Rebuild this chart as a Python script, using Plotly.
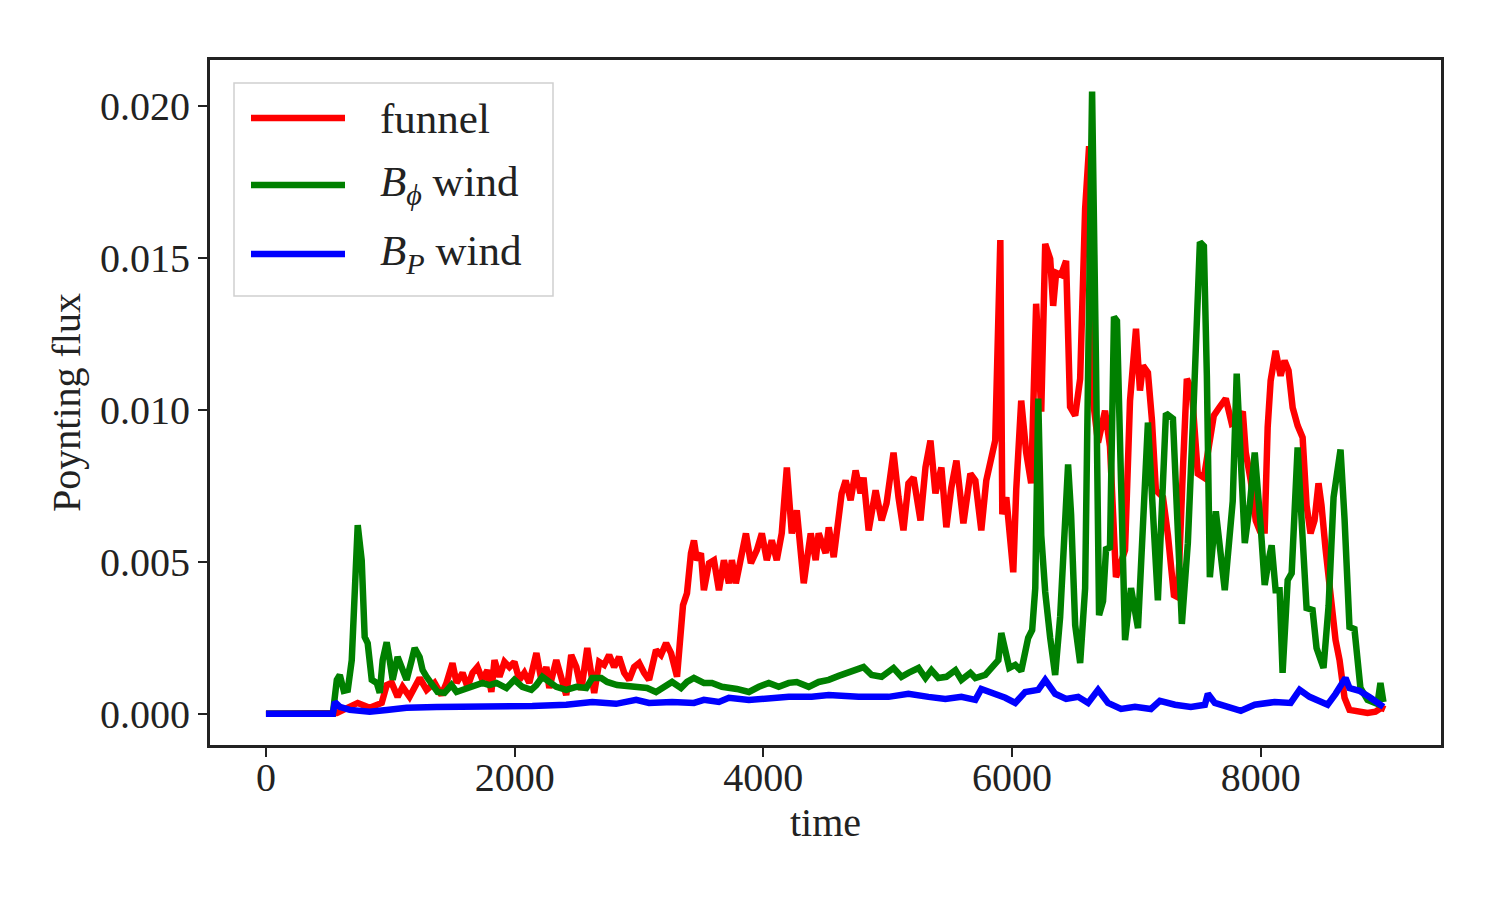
import plotly.graph_objects as go
import numpy as np

# ---- data (time, Poynting flux in units of 1e-3) ----
funnel_t = [0, 538, 570, 738, 834, 931, 971, 1011, 1059, 1099, 1155, 1236, 1292, 1356, 1412, 1452, 1500, 1533,
            1581, 1621, 1661, 1701, 1741, 1781, 1813, 1838, 1878, 1918, 1958, 1998, 2038, 2078, 2118, 2175, 2215,
            2255, 2279, 2335, 2375, 2415, 2455, 2496, 2536, 2584, 2640, 2680, 2720, 2760, 2800, 2840, 2881, 2921,
            2961, 3001, 3041, 3081, 3137, 3177, 3218, 3258, 3306, 3354, 3386, 3418, 3442, 3466, 3498, 3522, 3563,
            3603, 3643, 3683, 3723, 3747, 3779, 3819, 3860, 3900, 3948, 3988, 4028, 4068, 4108, 4148, 4189, 4229,
            4269, 4325, 4381, 4421, 4445, 4501, 4526, 4566, 4606, 4630, 4662, 4702, 4742, 4782, 4806, 4847, 4903,
            4951, 4991, 5047, 5087, 5127, 5167, 5208, 5264, 5304, 5344, 5384, 5432, 5472, 5512, 5553, 5609, 5665,
            5705, 5753, 5793, 5833, 5865, 5906, 5922, 5954, 6010, 6034, 6074, 6114, 6154, 6194, 6235, 6267, 6307,
            6331, 6355, 6395, 6435, 6467, 6508, 6548, 6588, 6620, 6652, 6692, 6748, 6788, 6836, 6909, 6949, 6997,
            7029, 7053, 7093, 7125, 7157, 7214, 7254, 7302, 7334, 7374, 7406, 7446, 7494, 7543, 7583, 7623, 7671,
            7719, 7767, 7815, 7856, 7880, 7920, 7960, 7992, 8032, 8056, 8080, 8120, 8160, 8192, 8224, 8257, 8297,
            8337, 8369, 8401, 8433, 8465, 8489, 8521, 8562, 8602, 8634, 8674, 8714, 8778, 8859, 8923, 8971, 9000]
funnel_v = [0, 0, 0.03, 0.36, 0.20, 0.36, 0.95, 1.02, 0.56, 0.89, 0.56, 1.18, 0.79, 1.02, 0.62, 1.02, 1.67, 1.02,
            1.35, 0.89, 1.35, 1.54, 1.12, 1.44, 0.72, 1.77, 1.22, 1.71, 1.54, 1.71, 1.12, 1.35, 1.02, 2.00, 1.12,
            1.54, 0.85, 1.77, 1.12, 0.62, 1.94, 1.54, 0.79, 2.17, 0.69, 1.71, 1.61, 1.94, 1.54, 1.87, 1.35, 1.12,
            1.54, 1.67, 1.35, 1.12, 2.10, 1.94, 2.33, 2.00, 1.22, 3.58, 3.97, 5.29, 5.71, 5.06, 5.29, 4.07, 4.96,
            5.06, 4.07, 5.06, 4.30, 5.06, 4.30, 5.06, 5.94, 4.96, 5.39, 5.94, 5.06, 5.71, 5.06, 5.94, 8.11, 5.94,
            6.70, 4.30, 5.94, 5.06, 5.94, 5.29, 6.14, 5.16, 6.37, 7.26, 7.68, 7.03, 8.01, 7.26, 7.78, 6.04, 7.36,
            6.37, 6.93, 8.60, 7.13, 6.04, 7.59, 7.78, 6.37, 8.11, 9.00, 7.26, 8.11, 6.14, 7.45, 8.34, 6.27, 7.91,
            7.68, 6.04, 7.68, 8.57, 9.00, 15.6, 6.57, 7.13, 4.66, 7.39, 10.31, 8.60, 7.59, 13.50, 9.95, 15.47, 14.98,
            13.43, 14.52, 14.45, 14.91, 10.11, 9.82, 11.03, 16.62, 18.69, 10.31, 8.93, 9.98, 8.80, 4.50, 5.39, 10.31, 12.68,
            10.64, 11.46, 11.23, 9.69, 7.36, 7.13, 5.88, 3.91, 3.84, 8.01, 11.03, 10.64, 7.91, 7.78, 9.00, 9.82, 10.11,
            10.38, 9.56, 9.66, 9.95, 8.60, 7.68, 6.37, 6.04, 6.04, 9.43, 10.97, 11.95, 11.13, 11.63, 11.30, 10.08, 9.49,
            9.10, 6.86, 5.94, 6.37, 7.59, 6.86, 5.45, 3.74, 2.43, 1.77, 0.53, 0.13, 0.07, 0.03, 0.07, 0.20, 0.15]

bphi_t = [0, 538, 570, 594, 626, 658, 690, 714, 738, 770, 794, 818, 851, 891, 915, 939, 971, 995, 1019, 1059, 1099,
          1131, 1172, 1196, 1236, 1260, 1292, 1332, 1380, 1436, 1492, 1533, 1581, 1637, 1693, 1741, 1797, 1854, 1934,
          1998, 2062, 2134, 2175, 2223, 2279, 2335, 2415, 2496, 2576, 2624, 2696, 2744, 2824, 2921, 3001, 3065, 3137,
          3218, 3266, 3338, 3386, 3442, 3522, 3587, 3667, 3787, 3884, 3964, 4044, 4124, 4205, 4269, 4365, 4445, 4526,
          4606, 4686, 4806, 4871, 4951, 5047, 5111, 5167, 5248, 5304, 5352, 5408, 5472, 5545, 5593, 5665, 5705, 5785,
          5849, 5890, 5914, 5946, 5978, 6026, 6074, 6130, 6162, 6187, 6211, 6235, 6267, 6307, 6347, 6387, 6427, 6451,
          6475, 6508, 6548, 6588, 6612, 6644, 6676, 6700, 6732, 6756, 6788, 6820, 6844, 6877, 6909, 6957, 7013, 7093,
          7133, 7173, 7238, 7294, 7366, 7414, 7462, 7511, 7543, 7567, 7591, 7639, 7711, 7775, 7807, 7872, 7912, 7952,
          8000, 8032, 8064, 8088, 8120, 8152, 8176, 8217, 8249, 8297, 8329, 8369, 8417, 8449, 8505, 8546, 8586, 8642,
          8674, 8714, 8754, 8802, 8859, 8939, 8963, 8987]
bphi_v = [0, 0, 1.12, 1.28, 0.76, 0.79, 1.77, 4.50, 6.21, 5.06, 2.53, 2.33, 1.12, 1.02, 0.69, 1.77, 2.36, 1.77, 1.12,
          1.87, 1.44, 1.12, 1.77, 2.17, 1.87, 1.44, 1.22, 1.02, 0.72, 0.69, 0.95, 0.72, 0.79, 0.89, 0.95, 1.02, 0.95,
          1.02, 0.85, 1.12, 0.89, 0.79, 0.95, 1.22, 1.05, 0.89, 0.79, 0.89, 0.85, 1.18, 1.18, 1.05, 0.95, 0.89, 0.89,
          0.85, 0.72, 0.89, 1.05, 0.85, 1.05, 1.18, 1.02, 1.02, 0.89, 0.82, 0.72, 0.89, 1.02, 0.89, 1.02, 1.05, 0.89,
          1.05, 1.12, 1.25, 1.35, 1.54, 1.28, 1.22, 1.51, 1.22, 1.35, 1.51, 1.18, 1.44, 1.18, 1.22, 1.44, 1.12, 1.35,
          1.18, 1.28, 1.54, 1.77, 2.66, 2.00, 1.51, 1.61, 1.41, 2.50, 2.76, 4.14, 10.38, 5.88, 4.01, 2.50, 1.28, 3.19,
          5.88, 8.21, 6.57, 2.92, 1.67, 4.14, 11.33, 20.49, 11.33, 3.25, 3.71, 5.42, 5.48, 13.07, 12.94, 6.44, 2.43,
          4.14, 2.82, 9.59, 7.00, 3.74, 9.89, 9.72, 2.96, 5.62, 10.31, 15.53, 15.40, 11.13, 4.50, 6.67, 4.07, 7.00,
          11.20, 5.62, 6.86, 8.60, 6.17, 4.24, 5.06, 5.55, 4.07, 4.07, 1.35, 4.40, 4.63, 8.77, 6.37, 3.48, 3.42, 2.17,
          1.51, 3.55, 7.13, 8.70, 6.44, 2.86, 2.79, 0.85, 0.46, 0.33, 1.02, 0.39]

bp_t = [0, 538, 554, 594, 674, 834, 971, 1131, 1372, 1637, 1902, 2142, 2415, 2624, 2816, 2977, 3081, 3266, 3442, 3522,
        3643, 3723, 3884, 4044, 4205, 4389, 4526, 4662, 4766, 5007, 5167, 5328, 5464, 5593, 5705, 5753, 5833, 5946,
        6026, 6106, 6211, 6267, 6347, 6435, 6532, 6612, 6692, 6772, 6877, 6989, 7117, 7189, 7310, 7438, 7551, 7575,
        7631, 7735, 7840, 7952, 8112, 8241, 8313, 8393, 8538, 8602, 8682, 8714, 8794, 8883, 8987]
bp_v = [0, 0, 0.39, 0.23, 0.13, 0.07, 0.13, 0.20, 0.23, 0.23, 0.26, 0.26, 0.30, 0.39, 0.33, 0.46, 0.36, 0.39, 0.36,
        0.46, 0.39, 0.53, 0.46, 0.53, 0.56, 0.56, 0.62, 0.59, 0.56, 0.56, 0.66, 0.56, 0.49, 0.56, 0.46, 0.82, 0.72,
        0.53, 0.36, 0.72, 0.79, 1.12, 0.66, 0.49, 0.56, 0.36, 0.79, 0.36, 0.16, 0.23, 0.16, 0.43, 0.30, 0.23, 0.30,
        0.66, 0.36, 0.23, 0.10, 0.30, 0.39, 0.36, 0.79, 0.56, 0.30, 0.66, 1.18, 0.85, 0.76, 0.53, 0.23]

x_ticks = [0, 2000, 4000, 6000, 8000]
y_ticks = [0.000, 0.005, 0.010, 0.015, 0.020]

series = [
    ("funnel", funnel_t, funnel_v, "#ff0000"),
    ("<i>B</i><sub><i>ϕ</i></sub> wind", bphi_t, bphi_v, "#008000"),
    ("<i>B</i><sub><i>P</i></sub> wind", bp_t, bp_v, "#0000ff"),
]

FONT = "Liberation Serif, Times New Roman, serif"
LW = 6.5
fig = go.Figure()
for name, t, v, c in series:
    fig.add_trace(go.Scatter(x=t, y=np.array(v) * 1e-3, mode="lines", name=name,
                             line=dict(color=c, width=LW), showlegend=False))

# custom legend (matplotlib-like: long line samples)
PW, PH, PL, PB = 1231, 685, 210, 745
fig.add_shape(type="rect", xref="paper", yref="paper", x0=(234-PL)/PW, x1=(553-PL)/PW,
              y0=(PB-296)/PH, y1=(PB-83)/PH, line=dict(color="#d0d0d0", width=1.5),
              fillcolor="rgba(255,255,255,0.85)", layer="above")
rows_y = [118, 185, 254]
for (name, t, v, c), ry in zip(series, rows_y):
    yp = (PB - ry) / PH
    fig.add_shape(type="line", xref="paper", yref="paper", x0=(251-PL)/PW, x1=(345-PL)/PW,
                  y0=yp, y1=yp, line=dict(color=c, width=LW), layer="above")
    fig.add_annotation(xref="paper", yref="paper", x=(378-PL)/PW, y=yp, text=name,
                       showarrow=False, xanchor="left", yanchor="middle",
                       font=dict(family=FONT, size=43, color="#222222"))

fig.update_layout(
    width=1502, height=901,
    margin=dict(l=210, r=61, t=60, b=156),
    paper_bgcolor="white", plot_bgcolor="white",
    font=dict(family=FONT, size=40, color="#222222"),
    xaxis=dict(range=[-450, 9450], tickvals=x_ticks, ticktext=[str(v) for v in x_ticks],
               showgrid=False, zeroline=False, showline=True, mirror=True, linewidth=3, linecolor="#222222",
               ticks="outside", ticklen=9, tickwidth=2, tickcolor="#222222", ticklabelstandoff=-14,
               title=dict(text="time", standoff=4, font=dict(size=40))),
    yaxis=dict(range=[-0.001025, 0.021525], tickvals=y_ticks, ticktext=[f"{v:.3f}" for v in y_ticks],
               showgrid=False, zeroline=False, showline=True, mirror=True, linewidth=3, linecolor="#222222",
               ticks="outside", ticklen=9, tickwidth=2, tickcolor="#222222",
               title=dict(text="Poynting flux", standoff=8, font=dict(size=40))),
)

fig.write_html("out.html")
